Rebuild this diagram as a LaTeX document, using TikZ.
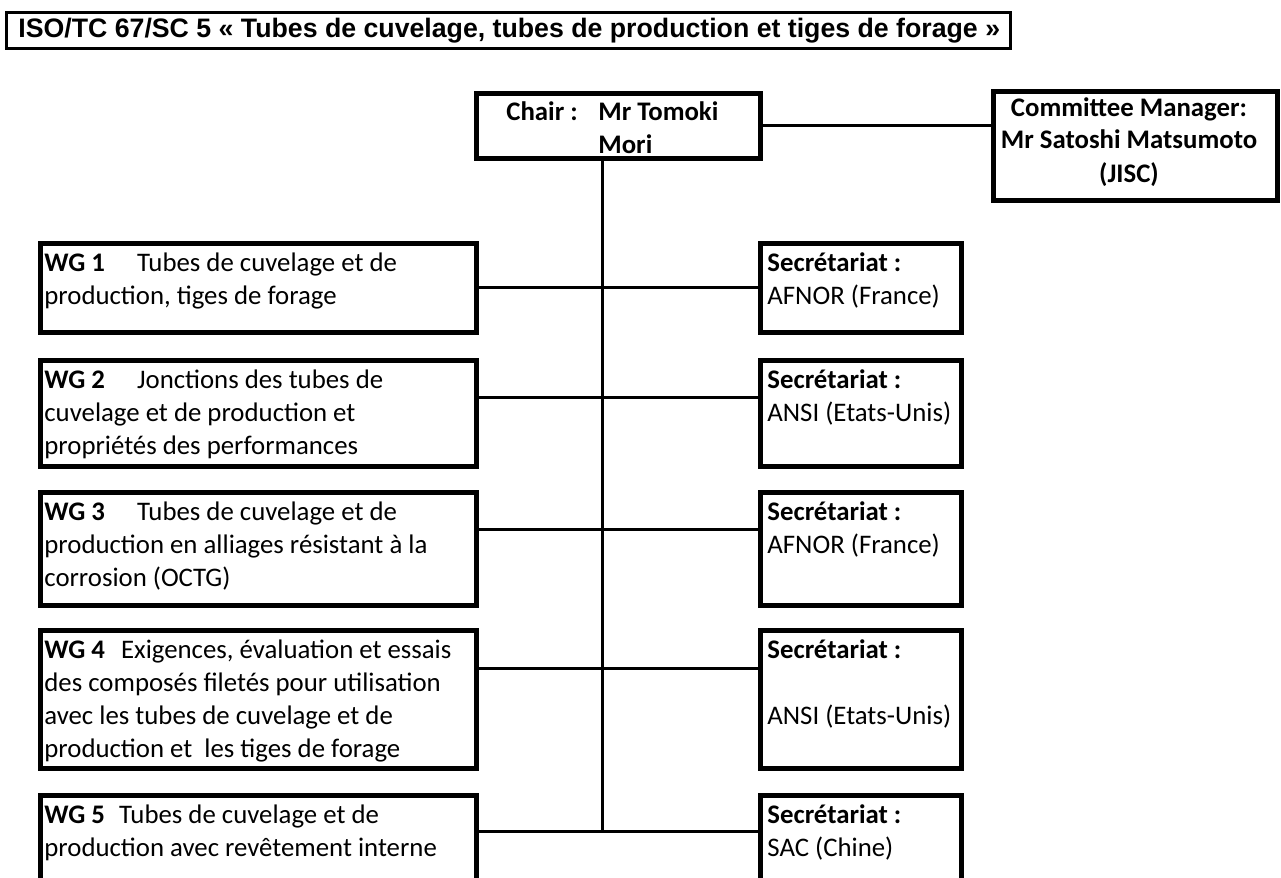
\documentclass[tikz,border=0pt]{standalone}
\usepackage{fontspec}
\setmainfont{Carlito}
\newfontfamily\titlefont{Liberation Sans}

\begin{document}
\begin{tikzpicture}[x=0.5pt,y=-0.5pt,
      box/.style={draw=black,line width=2.5pt,anchor=north west,inner sep=0pt,outer sep=0pt},
      wgbox/.style={box,minimum width=218pt},
      secbox/.style={box,minimum width=100.5pt},
      txt/.style={anchor=base west,inner sep=0pt,align=flush left,text width=235pt,
        font=\fontsize{13.4}{16.5}\selectfont},
      link/.style={line width=1.5pt}]
    \clip (0,0) rectangle (1281,878);
    \fill[white] (0,0) rectangle (1281,878);
    \node (title) [box,line width=1.5pt,minimum width=502pt,minimum height=18pt] at (6,12) {};
    \node (titletext) [anchor=west,inner sep=0pt,font=\titlefont\bfseries\fontsize{13.35}{16}\selectfont]
      at ([shift={(12,1)}]title.west) {ISO/TC 67/SC 5 « Tubes de cuvelage, tubes de production et tiges de forage »};
    \node (chair) [box,minimum width=142pt,minimum height=32.5pt] at (476,93) {};
    \node (chairtext) [txt] at ([shift={(30,27)}]chair.north west)
      {\textbf{\makebox[46pt][l]{Chair :}Mr Tomoki}\\\textbf{\hspace*{46pt}Mori}};
    \node (cm) [box,minimum width=142pt,minimum height=54.5pt] at (993,91) {};
    \node (cmtext) [txt,anchor=base,align=flush center,text width=140pt] at ([shift={(-6,25)}]cm.north)
      {\textbf{Committee Manager:}\\\textbf{Mr Satoshi Matsumoto}\\\textbf{(JISC)}\hspace*{40pt}};
    \node (wg1) [wgbox,minimum height=44.5pt] at (40,243) {};
    \node (wg2) [wgbox,minimum height=53pt] at (40,360) {};
    \node (wg3) [wgbox,minimum height=56.5pt] at (40,492) {};
    \node (wg4) [wgbox,minimum height=69pt] at (40,630) {};
    \node (wg5) [wgbox,minimum height=55pt] at (40,795) {};
    \node (sec1) [secbox,minimum height=44.5pt] at (760,243) {};
    \node (sec2) [secbox,minimum height=53pt] at (760,360) {};
    \node (sec3) [secbox,minimum height=56.5pt] at (760,492) {};
    \node (sec4) [secbox,minimum height=69pt] at (760,630) {};
    \node (sec5) [secbox,minimum height=55pt] at (760,795) {};
    \node (wg1text) [txt] at ([shift={(4,28)}]wg1.north west)
      {\textbf{WG 1}\hspace{16pt}Tubes de cuvelage et de\\production, tiges de forage};
    \node (wg2text) [txt] at ([shift={(4,28)}]wg2.north west)
      {\textbf{WG 2}\hspace{16pt}Jonctions des tubes de\\cuvelage et de production et\\propriétés des performances};
    \node (wg3text) [txt] at ([shift={(4,28)}]wg3.north west)
      {\textbf{WG 3}\hspace{16pt}Tubes de cuvelage et de\\production en alliages résistant à la\\corrosion (OCTG)};
    \node (wg4text) [txt] at ([shift={(4,28)}]wg4.north west)
      {\textbf{WG 4}\hspace{8pt}Exigences, évaluation et essais\\des composés filetés pour utilisation\\avec les tubes de cuvelage et de\\production et\ \ les tiges de forage};
    \node (wg5text) [txt] at ([shift={(4,28)}]wg5.north west)
      {\textbf{WG 5}\hspace{7pt}Tubes de cuvelage et de\\production avec revêtement interne};
    \node (sec1text) [txt] at ([shift={(7,28)}]sec1.north west) {\textbf{Secrétariat :}\\AFNOR (France)};
    \node (sec2text) [txt] at ([shift={(7,28)}]sec2.north west) {\textbf{Secrétariat :}\\ANSI (Etats-Unis)};
    \node (sec3text) [txt] at ([shift={(7,28)}]sec3.north west) {\textbf{Secrétariat :}\\AFNOR (France)};
    \node (sec4text) [txt] at ([shift={(7,28)}]sec4.north west) {\textbf{Secrétariat :}\\[16.5pt]ANSI (Etats-Unis)};
    \node (sec5text) [txt] at ([shift={(7,28)}]sec5.north west) {\textbf{Secrétariat :}\\SAC (Chine)};
    \coordinate (trunk) at (602,831);
    \coordinate (l2) at (602,397);
    \coordinate (l3) at (602,529);
    \coordinate (l4) at (602,668);
    \draw[link] (chair.east) -- (chair.east -| cm.west);
    \draw[link] (chair.south -| trunk) -- (trunk);
    \draw[link] (wg1.east) -- (sec1.west);
    \draw[link] (wg2.east |- l2) -- (sec2.west |- l2);
    \draw[link] (wg3.east |- l3) -- (sec3.west |- l3);
    \draw[link] (wg4.east |- l4) -- (sec4.west |- l4);
    \draw[link] (wg5.east |- trunk) -- (sec5.west |- trunk);
  \end{tikzpicture}
\end{document}
